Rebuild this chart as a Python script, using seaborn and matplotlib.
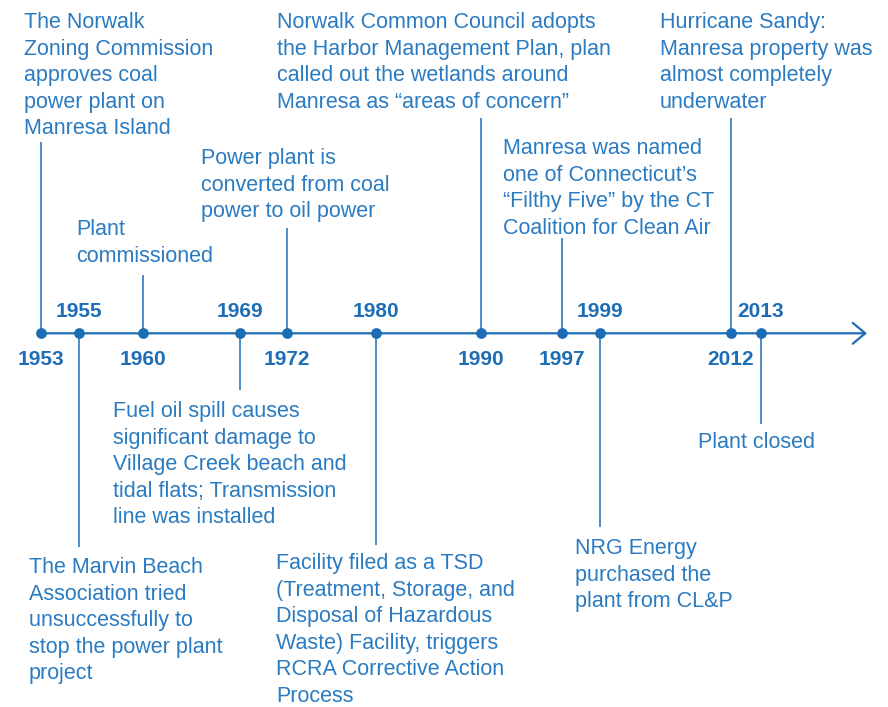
import matplotlib
matplotlib.use("Agg")
import matplotlib.pyplot as plt
import matplotlib.transforms as mtransforms
import seaborn as sns
import pandas as pd

# ---------------- data ----------------
years = [1953, 1955, 1960, 1969, 1972, 1980, 1990, 1997, 1999, 2012, 2013]
events = [
    "The Norwalk\nZoning Commission\napproves coal\npower plant on\nManresa Island",
    "The Marvin Beach\nAssociation tried\nunsuccessfully to\nstop the power plant\nproject",
    "Plant\ncommissioned",
    "Fuel oil spill causes\nsignificant damage to\nVillage Creek beach and\ntidal flats; Transmission\nline was installed",
    "Power plant is\nconverted from coal\npower to oil power",
    "Facility filed as a TSD\n(Treatment, Storage, and\nDisposal of Hazardous\nWaste) Facility, triggers\nRCRA Corrective Action\nProcess",
    "Norwalk Common Council adopts\nthe Harbor Management Plan, plan\ncalled out the wetlands around\nManresa as \u201careas of concern\u201d",
    "Manresa was named\none of Connecticut\u2019s\n\u201cFilthy Five\u201d by the CT\nCoalition for Clean Air",
    "NRG Energy\npurchased the\nplant from CL&P",
    "Hurricane Sandy:\nManresa property was\nalmost completely\nunderwater",
    "Plant closed",
]
sides = ["above", "below", "above", "below", "above", "below",
         "above", "above", "below", "above", "below"]

# ---------------- layout (pixels, not data) ----------------
text_left = [24, 29, 76, 113, 201, 276, 277, 503, 575, 660, 698]
text_top = [12, 557, 219, 401, 148, 553, 12, 138, 538, 12, 432]
stem_end = [142, 547, 275, 390, 228, 545, 118, 238, 527, 118, 424]

W, H = 888, 707
AXIS_Y = 333.3
# schematic timeline: spacing blends event order and elapsed years
STEP_PER_EVENT = 21.6
STEP_PER_YEAR = 8.4
LEFT_MARGIN = 41

TEXT_C = "#2a7bc1"
LINE_C = "#1c6db5"

sns.set_theme(style="white")
plt.rcParams["font.family"] = ["Liberation Sans", "DejaVu Sans"]

fig = plt.figure(figsize=(W / 100, H / 100), dpi=100)
ax = fig.add_axes([0, 0, 1, 1])
ax.set_xlim(-LEFT_MARGIN, W - LEFT_MARGIN)
ax.set_ylim(H, 0)
ax.axis("off")

df = pd.DataFrame({"year": years, "event": events, "side": sides})
df["pos"] = STEP_PER_EVENT * df.index + STEP_PER_YEAR * (df["year"] - df["year"].min())
df["axis"] = AXIS_Y

# main timeline with arrow
x_end = 867 - LEFT_MARGIN
ax.annotate("", xy=(x_end, AXIS_Y), xytext=(df["pos"].iloc[0], AXIS_Y),
            arrowprops=dict(arrowstyle="->,head_length=0.9,head_width=0.75",
                            color=LINE_C, lw=1.6, mutation_scale=10,
                            shrinkA=0, shrinkB=0))

# stems
for p, ye in zip(df["pos"], stem_end):
    ax.plot([p, p], [AXIS_Y, ye], color=LINE_C, lw=1.1, solid_capstyle="butt", zorder=2)

# dots
sns.scatterplot(data=df, x="pos", y="axis", ax=ax, s=60, color=LINE_C,
                linewidth=0, zorder=4, legend=False)

# year labels
for p, yr, sd in zip(df["pos"], df["year"], df["side"]):
    yb = 317.3 if sd == "below" else 365.0
    ax.text(p, yb, str(yr), ha="center", va="baseline", fontsize=15,
            fontweight="bold", color=LINE_C)

# event texts
blend = mtransforms.blended_transform_factory(ax.transAxes, ax.transData)
for ev, xl, yt in zip(df["event"], text_left, text_top):
    ax.text(xl / W, yt, ev, transform=blend, ha="left", va="top",
            fontsize=15.5, color=TEXT_C, linespacing=1.35)

fig.savefig("out.png", dpi=100)
